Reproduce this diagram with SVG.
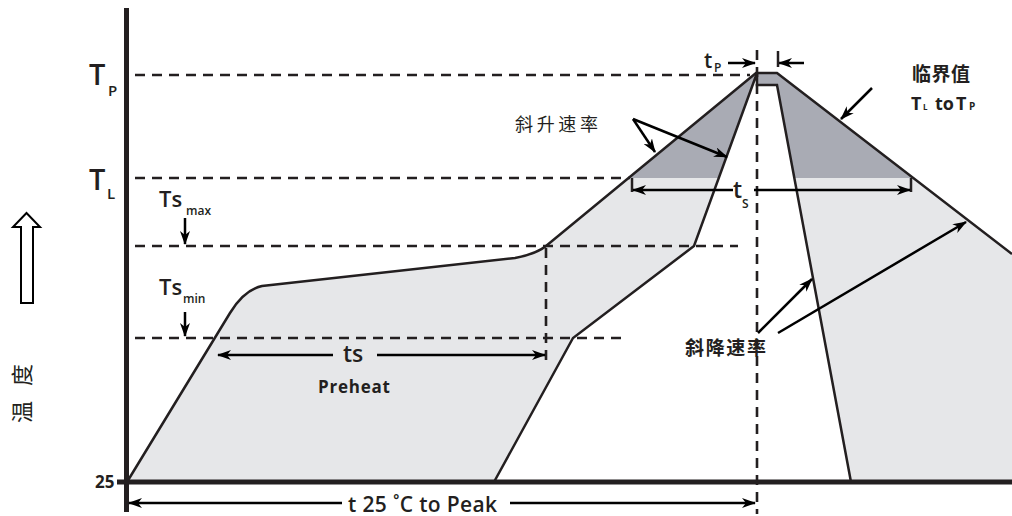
<svg xmlns="http://www.w3.org/2000/svg" width="1012" height="516" viewBox="0 0 1012 516">
<defs>
<style>
.ax{stroke:#231f20;stroke-width:5;fill:none}
.ln{stroke:#231f20;stroke-width:2.5;fill:none;stroke-linejoin:miter}
.dash{stroke:#231f20;stroke-width:2.6;stroke-dasharray:10 7;fill:none}
.arr{stroke:#000;stroke-width:2.5;fill:none;marker-end:url(#ah)}
.lbl{font-family:"Open Sans","Liberation Sans",sans-serif;font-weight:bold;fill:#231f20}
.sem{font-family:"Open Sans","Liberation Sans",sans-serif;font-weight:600;fill:#231f20}
.cjk{font-family:"Noto Sans CJK SC",sans-serif;fill:#231f20}
</style>
<marker id="ah" markerUnits="userSpaceOnUse" markerWidth="14" markerHeight="10" refX="13" refY="5" orient="auto">
<path d="M0,0 L14,5 L0,10 L4,5 Z" fill="#000"/>
</marker>
<clipPath id="above"><rect x="0" y="0" width="1012" height="178"/></clipPath>
<path id="outer" d="M127,482 L230,313 Q244,290 262,286 L515,258 Q536,254 546,246 L756,73 L777,73 L1012,254 L1012,482 Z"/>
</defs>

<g id="regions">
<use href="#outer" fill="#e6e7e9"/>
<use href="#outer" fill="#a9abb4" clip-path="url(#above)"/>
<path d="M757,73 L757,85 L777,85 L851,482 L494,482 L573,338 L694,246 Z" fill="#fff"/>
</g>

<g id="curves">
<path class="ln" d="M127,482 L230,313 Q244,290 262,286 L515,258 Q536,254 546,246 L756,73 L777,73 L1012,254"/>
<path class="ln" d="M494,482 L573,338 L694,246 L757,73 L757,85 L777,85 L851,482"/>
<path class="ln" d="M632,178 L632,192 M911,178 L911,192"/>
</g>

<g id="guides">
<path class="dash" d="M135,75 H750"/>
<path class="dash" d="M135,178 H630"/>
<path class="dash" d="M135,246 H738"/>
<path class="dash" d="M135,338 H628"/>
<path class="dash" d="M546,248 V362"/>
<path class="dash" d="M757,50 V514"/>
</g>

<g id="axes">
<path class="ax" d="M126.5,8 V512"/>
<path class="ax" d="M117,482 H1012"/>
</g>

<g id="connectors">
<path class="arr" d="M185,218 V244"/>
<path class="arr" d="M185,312 V336"/>
<path class="arr" d="M333,355 H218"/>
<path class="arr" d="M377,355 H545"/>
<path class="arr" d="M733,190 H633"/>
<path class="arr" d="M754,190 H910"/>
<path class="arr" d="M728,63 H755"/>
<path class="arr" d="M804,63 H779"/>
<path class="ln" d="M778,51 V67"/>
<path class="arr" d="M342,503 H129"/>
<path class="arr" d="M510,503 H755"/>
<path class="arr" d="M633,119 L655,152"/>
<path class="arr" d="M633,119 L727,157"/>
<path class="arr" d="M872,88 L841,119"/>
<path class="arr" d="M758,333 L812,279"/>
<path class="arr" d="M778,333 L966,222"/>
</g>

<g id="temp-axis-label">
<path d="M26.5,213 L40,227 L33,227 L33,303 L21,303 L21,227 L13,227 Z" fill="#fff" stroke="#000" stroke-width="2"/>
<text class="cjk" font-size="22" text-anchor="middle" dominant-baseline="central" transform="translate(20,412) rotate(-90)">温</text>
<text class="cjk" font-size="22" text-anchor="middle" dominant-baseline="central" transform="translate(20,375) rotate(-90)">度</text>
</g>

<g id="labels">
<text class="sem" font-size="29" x="89" y="85">T</text>
<text class="sem" font-size="15" x="108" y="96">P</text>
<text class="sem" font-size="29" x="89" y="190">T</text>
<text class="sem" font-size="15" x="107" y="199">L</text>
<text class="sem" font-size="22" x="159" y="207">Ts</text>
<text class="sem" font-size="12" x="186" y="215">max</text>
<text class="sem" font-size="22" x="159" y="295">Ts</text>
<text class="sem" font-size="12" x="183" y="303">min</text>
<text class="lbl" font-size="17" x="95" y="488">25</text>
<text class="sem" font-size="23" x="343" y="362">ts</text>
<text class="lbl" font-size="17" x="318" y="393" textLength="72">Preheat</text>
<text class="cjk" font-size="18" x="515" y="131" textLength="83">斜升速率</text>
<text class="cjk" font-size="19" font-weight="bold" x="685" y="355" textLength="81">斜降速率</text>
<text class="cjk" font-size="19" font-weight="bold" x="912" y="81" textLength="58">临界值</text>
<text class="lbl" font-size="18" x="911" y="110">T</text>
<text class="lbl" font-size="8" x="923" y="110">L</text>
<text class="lbl" font-size="18" x="935" y="110">to</text>
<text class="lbl" font-size="18" x="956" y="110">T</text>
<text class="lbl" font-size="10" x="969" y="110">P</text>
<text class="sem" font-size="23" x="733" y="198">t</text>
<text class="sem" font-size="12" x="742" y="208">S</text>
<text class="sem" font-size="21" x="704" y="68">t</text>
<text class="sem" font-size="12" x="714" y="72">P</text>
<text class="sem" font-size="21" x="348" y="512" textLength="149">t 25 ˚C to Peak</text>
</g>
</svg>
